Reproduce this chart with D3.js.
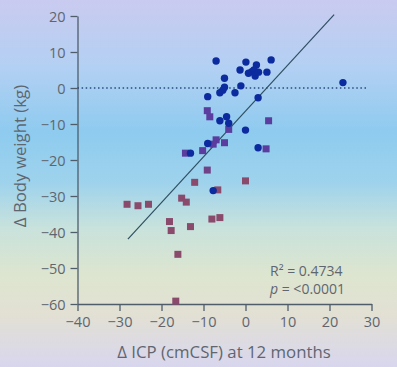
<!DOCTYPE html>
<html>
<head>
<meta charset="utf-8">
<script src="https://cdn.jsdelivr.net/npm/d3@7"></script>
<style>
    html, body { margin: 0; padding: 0; }
    body { width: 397px; height: 367px; overflow: hidden; }
    text { font-family: 'Open Sans', 'Noto Sans', sans-serif; }
</style>
</head>
<body>
<div id="chart"></div>
<script>
const [WIDTH, HEIGHT] = [397, 367];

// x = change in ICP (cmCSF), y = change in body weight (kg)
const circlePoints = [
    [-7.0, 7.5], [0.1, 7.2], [2.6, 6.4], [6.1, 7.8], [-1.3, 5.0], [0.7, 4.1],
    [1.5, 4.5], [2.0, 5.0], [2.3, 3.3], [3.1, 4.4], [5.1, 4.4], [-5.0, 2.7],
    [-5.0, 0.2], [-5.4, -0.6], [-6.1, -1.3], [-2.5, -1.3], [-1.1, 0.6], [-9.0, -2.4],
    [3.0, -2.7], [23.2, 1.5], [-6.1, -9.1], [-4.5, -8.0], [-4.0, -9.8], [0.0, -11.7],
    [-9.0, -15.4], [3.0, -16.6], [-13.1, -18.1], [-7.7, -28.5],
];

const squarePoints = [
    [-9.1, -6.3], [-8.5, -8.0], [5.5, -9.1], [-4.0, -11.5], [-7.0, -14.4], [-7.7, -15.6],
    [-5.0, -15.2], [-10.2, -17.4], [4.9, -16.9], [-14.3, -18.1], [-9.1, -22.8], [-12.1, -26.2],
    [0.0, -25.8], [-6.6, -28.3], [-28.2, -32.3], [-25.6, -32.7], [-23.1, -32.3], [-15.2, -30.6],
    [-14.1, -31.7], [-18.1, -37.1], [-17.7, -39.6], [-13.1, -38.5], [-8.0, -36.4], [-6.1, -36.0],
    [-16.1, -46.2], [-16.6, -59.2],
];

const regressionLine = [[-28.0, -42.0], [21.1, 20.4]];
const xTicks = [-40, -30, -20, -10, 0, 10, 20, 30];
const yTicks = [20, 10, 0, -10, -20, -30, -40, -50, -60];
const statLines = ['R² = 0.4734', 'p = <0.0001'];

const AXIS_COLOR = '#4f5d6b';
const TEXT_COLOR = '#5f6670';

const svg = d3.select('#chart').append('svg')
    .attr('width', WIDTH)
    .attr('height', HEIGHT)
    .attr('viewBox', `0 0 ${WIDTH} ${HEIGHT}`);

// photographed slide background
const grad = svg.append('defs').append('linearGradient')
    .attr('id', 'bg')
    .attr('x1', 0).attr('y1', 0).attr('x2', 0).attr('y2', 1);
[
    [0, '#c9cbef'], [0.18, '#b3d0f3'], [0.36, '#8ecbef'], [0.5, '#9fd3ec'],
    [0.62, '#c8e2dc'], [0.75, '#dde5cf'], [0.86, '#e2e0d4'], [1, '#d8d6ee'],
].forEach(([o, c]) => grad.append('stop').attr('offset', o).attr('stop-color', c));

svg.append('rect')
    .attr('width', WIDTH)
    .attr('height', HEIGHT)
    .attr('fill', 'url(#bg)');

const x = d3.scaleLinear().domain([-40, 30]).range([77.5, 371.5]);
const y = d3.scaleLinear().domain([-60, 20]).range([304, 16]);

const minus = (d) => d3.format('d')(d).replace('-', '\u2212');

const xAxis = svg.append('g')
    .attr('transform', `translate(0, ${y(-60)})`)
    .call(d3.axisBottom(x).tickValues(xTicks).tickSize(7).tickSizeOuter(0).tickPadding(6).tickFormat(minus));

const yAxis = svg.append('g')
    .attr('transform', `translate(${x(-40)}, 0)`)
    .call(d3.axisLeft(y).tickValues(yTicks).tickSize(7).tickSizeOuter(0).tickPadding(5).tickFormat(minus));

[xAxis, yAxis].forEach((ax) => {
    ax.select('.domain').attr('stroke', AXIS_COLOR).attr('stroke-width', 1.3);
    ax.selectAll('.tick line').attr('stroke', AXIS_COLOR).attr('stroke-width', 1.3);
    ax.selectAll('.tick text')
        .attr('fill', TEXT_COLOR)
        .attr('font-size', 14.5)
        .attr('font-family', "'Open Sans', sans-serif");
});
yAxis.selectAll('.tick text').attr('dy', '0.35em');

// zero reference line
svg.append('line')
    .attr('x1', x(-40)).attr('x2', x(29.3))
    .attr('y1', y(0)).attr('y2', y(0))
    .attr('stroke', '#2c4a80')
    .attr('stroke-width', 1.5)
    .attr('stroke-dasharray', '1.5 2.6');

// regression line
svg.append('line')
    .attr('x1', x(regressionLine[0][0])).attr('y1', y(regressionLine[0][1]))
    .attr('x2', x(regressionLine[1][0])).attr('y2', y(regressionLine[1][1]))
    .attr('stroke', '#2f4f62')
    .attr('stroke-width', 1.2);

// squares: purple above, mauve below
const squareColor = d3.scaleLinear()
    .domain([-25, -21])
    .range(['#8a4a6c', '#5a3d9e'])
    .clamp(true);

const SQ = 7;
svg.selectAll('.square')
    .data(squarePoints)
    .enter()
    .append('rect')
    .attr('class', 'square')
    .attr('x', (d) => x(d[0]) - SQ / 2)
    .attr('y', (d) => y(d[1]) - SQ / 2)
    .attr('width', SQ)
    .attr('height', SQ)
    .attr('fill', (d) => squareColor(d[1]));

svg.selectAll('.circle')
    .data(circlePoints)
    .enter()
    .append('circle')
    .attr('class', 'circle')
    .attr('cx', (d) => x(d[0]))
    .attr('cy', (d) => y(d[1]))
    .attr('r', 3.7)
    .attr('fill', '#0c2b9e');

// stats annotation
const stats = svg.append('text')
    .attr('fill', TEXT_COLOR)
    .attr('font-size', 14);
stats.append('tspan')
    .attr('x', 270).attr('y', 276)
    .text(statLines[0]);
stats.append('tspan')
    .attr('x', 270).attr('y', 294)
    .call((t) => {
        t.append('tspan').attr('font-style', 'italic').text(statLines[1].slice(0, 1));
        t.append('tspan').text(statLines[1].slice(1));
    });

// axis titles
svg.append('text')
    .attr('x', 224).attr('y', 358)
    .attr('text-anchor', 'middle')
    .attr('fill', TEXT_COLOR)
    .attr('font-size', 16.8)
    .text('\u0394 ICP (cmCSF) at 12 months');

svg.append('text')
    .attr('transform', 'translate(26, 156) rotate(-90)')
    .attr('text-anchor', 'middle')
    .attr('fill', TEXT_COLOR)
    .attr('font-size', 16.8)
    .text('\u0394 Body weight (kg)');
</script>
</body>
</html>
